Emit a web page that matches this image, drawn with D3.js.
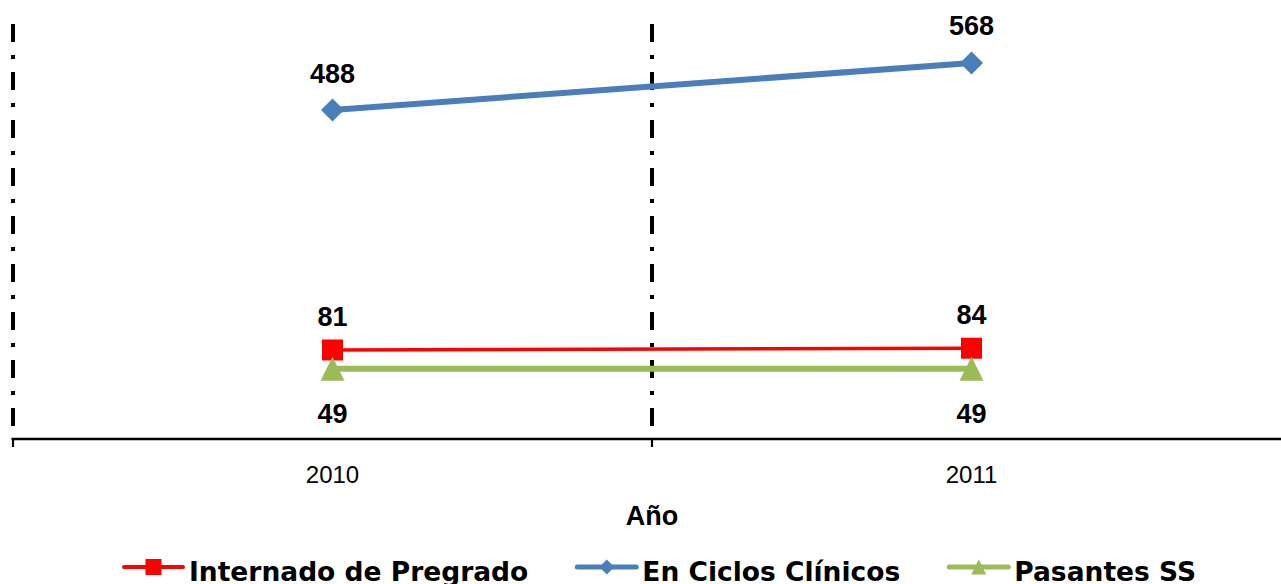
<!DOCTYPE html>
<html>
<head>
<meta charset="utf-8">
<script src="https://cdn.jsdelivr.net/npm/d3@7/dist/d3.min.js"></script>
<style>
  html, body { margin: 0; padding: 0; background: #ffffff; }
  svg { display: block; }
</style>
</head>
<body>
<svg id="chart" width="1281" height="584"></svg>
<script>
// ---- data ----
const categories = ["2010", "2011"];
const seriesNames = ["Internado de Pregrado", "En Ciclos Clínicos", "Pasantes SS"];
const internadoValues = [81, 84];
const ciclosValues = [488, 568];
const pasantesValues = [49, 49];
const axisTitle = "Año";

// ---- styles ----
const seriesStyles = [
  { name: seriesNames[0], values: internadoValues, color: "#FF0000", width: 3.5, marker: "square", size: 21, labelDy: -24, legendSize: 16 },
  { name: seriesNames[1], values: ciclosValues, color: "#4A7EBB", width: 6, marker: "diamond", size: 23, labelDy: -27.5, legendSize: 15 },
  { name: seriesNames[2], values: pasantesValues, color: "#9BBB59", width: 6, marker: "triangle", size: 24, labelDy: 54, legendSize: 15 }
];

const svg = d3.select("#chart");
const plotTop = 24, plotBottom = 439, plotLeft = 13, plotRight = 1291;

const x = d3.scaleBand().domain(categories).range([plotLeft, plotRight]).padding(0);
const y = d3.scaleLinear().domain([-70, 634]).range([plotBottom, plotTop]);

// vertical gridlines at category boundaries (dash-dot)
const boundaries = categories.map(c => x(c)).concat([x(categories[categories.length - 1]) + x.bandwidth()]);
svg.append("g").selectAll("line").data(boundaries).join("line")
  .attr("x1", d => d).attr("x2", d => d)
  .attr("y1", plotTop).attr("y2", plotBottom)
  .attr("stroke", "#000").attr("stroke-width", 4)
  .attr("stroke-dasharray", "18,13,4,13");

// x axis
const xAxis = d3.axisBottom(x).tickSize(0).tickPadding(0);
const gx = svg.append("g").attr("transform", `translate(0,${plotBottom})`).call(xAxis);
gx.select(".domain").remove();
gx.selectAll("text").attr("font-family", "Liberation Sans, Arial, sans-serif")
  .attr("font-size", 24).attr("fill", "#000").attr("dy", null).attr("y", 44);

svg.append("line").attr("x1", plotLeft - 1.5).attr("x2", 1281)
  .attr("y1", plotBottom).attr("y2", plotBottom)
  .attr("stroke", "#000").attr("stroke-width", 2.5);
svg.append("g").selectAll("line").data(boundaries).join("line")
  .attr("x1", d => d).attr("x2", d => d)
  .attr("y1", plotBottom).attr("y2", plotBottom + 8)
  .attr("stroke", "#000").attr("stroke-width", 2.2);

svg.append("text").attr("x", 652).attr("y", 525).attr("text-anchor", "middle")
  .attr("font-family", "Liberation Sans, Arial, sans-serif").attr("font-weight", "bold")
  .attr("font-size", 27).attr("fill", "#000").text(axisTitle);

// markers
function markerPath(type, s) {
  const h = s / 2;
  if (type === "square") return `M${-h},${-h}H${h}V${h}H${-h}Z`;
  if (type === "diamond") return `M0,${-h}L${h},0L0,${h}L${-h},0Z`;
  return `M0,${-h}L${h},${h}L${-h},${h}Z`;
}

const cx = c => x(c) + x.bandwidth() / 2;
const line = d3.line().x(d => cx(d.cat)).y(d => y(d.v));

seriesStyles.forEach(s => {
  const pts = categories.map((c, i) => ({ cat: c, v: s.values[i] }));
  const g = svg.append("g");
  g.append("path").attr("d", line(pts)).attr("fill", "none")
    .attr("stroke", s.color).attr("stroke-width", s.width);
  g.selectAll("path.m").data(pts).join("path").attr("class", "m")
    .attr("d", markerPath(s.marker, s.size))
    .attr("transform", d => `translate(${cx(d.cat)},${y(d.v)})`)
    .attr("fill", s.color);
  g.selectAll("text").data(pts).join("text")
    .attr("x", d => cx(d.cat)).attr("y", d => y(d.v) + s.labelDy)
    .attr("text-anchor", "middle")
    .attr("font-family", "Liberation Sans, Arial, sans-serif").attr("font-weight", "bold")
    .attr("font-size", 27).attr("fill", "#000").text(d => d.v);
});

// legend
const legendY = 567, lineLen = 59, textGap = 6, itemGap = 49, legendCenter = 660;
const lg = svg.append("g");
const items = seriesStyles.map(s => {
  const t = lg.append("text").attr("y", legendY + 13.5)
    .attr("font-family", "DejaVu Sans, Verdana, sans-serif").attr("font-weight", "bold")
    .attr("font-size", 26.5).attr("fill", "#000").text(s.name);
  return { s, t, w: t.node().getComputedTextLength() };
});
const total = d3.sum(items, d => lineLen + textGap + d.w) + itemGap * (items.length - 1);
let lx = legendCenter - total / 2;
items.forEach(d => {
  lg.append("line").attr("x1", lx).attr("x2", lx + lineLen).attr("y1", legendY).attr("y2", legendY)
    .attr("stroke", d.s.color).attr("stroke-width", d.s.width === 6 ? 5 : 4).attr("stroke-linecap", "round");
  lg.append("path").attr("d", markerPath(d.s.marker, d.s.legendSize))
    .attr("transform", `translate(${lx + lineLen / 2},${legendY})`).attr("fill", d.s.color);
  d.t.attr("x", lx + lineLen + textGap);
  lx += lineLen + textGap + d.w + itemGap;
});
</script>
</body>
</html>
